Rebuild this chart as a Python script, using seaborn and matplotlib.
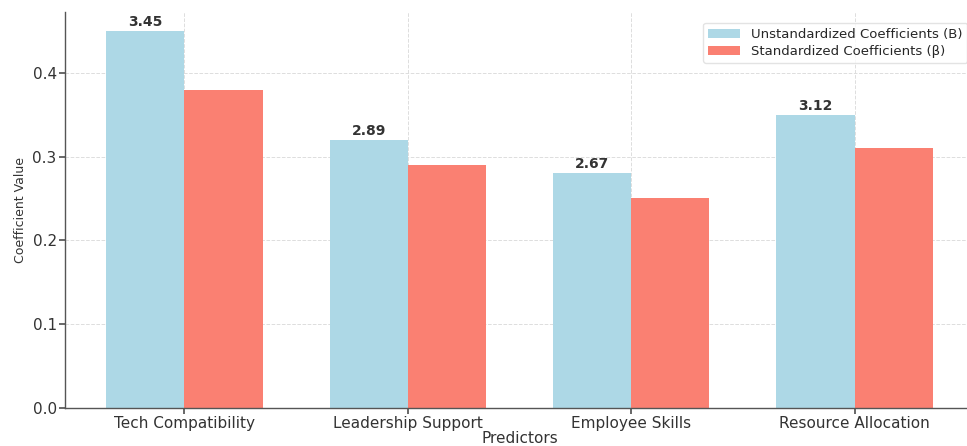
import matplotlib
matplotlib.use("Agg")
import matplotlib.pyplot as plt
import seaborn as sns
import pandas as pd

predictors = ["Tech Compatibility", "Leadership Support", "Employee Skills", "Resource Allocation"]
unstd = [0.45, 0.32, 0.28, 0.35]
std = [0.38, 0.29, 0.25, 0.31]
t_labels = ["3.45", "2.89", "2.67", "3.12"]
series = ["Unstandardized Coefficients (B)", "Standardized Coefficients (β)"]

df = pd.DataFrame({
    "Predictors": predictors * 2,
    "Coefficient Value": unstd + std,
    "Type": [series[0]] * 4 + [series[1]] * 4,
})

sns.set_theme(style="white")
plt.rcParams["font.family"] = ["DejaVu Sans"]

fig = plt.figure(figsize=(9.67, 4.46), dpi=100)
ax = fig.add_axes([65 / 967, 1 - 408 / 446, (974 - 65) / 967, (408 - 12) / 446])

sns.barplot(data=df, x="Predictors", y="Coefficient Value", hue="Type",
            palette=["#ADD8E6", "#FA8072"], width=0.7, gap=0, saturation=1,
            errorbar=None, linewidth=0, ax=ax)

ax.bar_label(ax.containers[0], labels=t_labels, padding=1.5, fontsize=10,
             fontweight="bold", color="#333333")

ax.set_xlim(-0.535, 3.535)
ax.set_ylim(0, 0.4725)
ax.set_yticks([0.0, 0.1, 0.2, 0.3, 0.4])
ax.grid(True, linestyle="--", color="#dddddd", linewidth=0.7)
ax.set_axisbelow(True)
ax.tick_params(axis="both", labelsize=11, colors="#333333", length=4,
               left=True, bottom=True, color="#555555", pad=2)
ax.set_xlabel("Predictors", fontsize=11, color="#333333", labelpad=0)
ax.set_ylabel("Coefficient Value", fontsize=9, color="#333333", labelpad=4)
for s in ["top", "right"]:
    ax.spines[s].set_visible(False)
for s in ["left", "bottom"]:
    ax.spines[s].set_color("#555555")
    ax.spines[s].set_linewidth(1.0)

leg = ax.legend(title=None, loc="upper right", fontsize=9.5, frameon=True,
                bbox_to_anchor=(1.0, 0.99), handlelength=2.4, labelspacing=0.3,
                borderpad=0.4)
leg.get_frame().set_edgecolor("#dddddd")

fig.savefig("out.png", dpi=100)
